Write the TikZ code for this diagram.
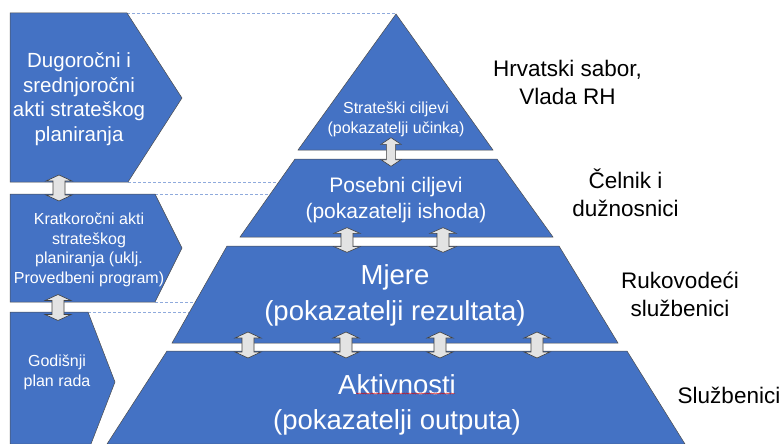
\documentclass[tikz,border=0pt]{standalone}
\usepackage{fontspec}
\setmainfont{Liberation Sans}
\usetikzlibrary{decorations.pathmorphing}
\definecolor{pblue}{HTML}{4472C4}
\definecolor{dashblue}{HTML}{8FAADC}
\definecolor{agray}{HTML}{E3E3E3}
\begin{document}
\begin{tikzpicture}[x=1pt,y=-1pt,
  blk/.style={fill=pblue,draw=black!70,line width=0.5pt},
  dashln/.style={draw=dashblue,line width=0.8pt,dash pattern=on 3pt off 2pt},
  dblshape/.style={fill=agray,draw=black!75,line width=0.6pt},
  dbl/.pic={\path[dblshape] (0,-13) -- (13,-7) -- (6,-7) -- (6,7) -- (13,7) -- (0,13)
      -- (-13,7) -- (-6,7) -- (-6,-7) -- (-13,-7) -- cycle;},
  wtxt/.style={text=white,align=center,inner sep=0pt},
  btxt/.style={text=black,align=center,inner sep=0pt}]
\useasboundingbox (0,0) rectangle (784,444);
\clip (0,0) rectangle (784,444);

% dashed guide lines
\draw[dashln] (127,13.5) -- (396,13.5);
\draw[dashln] (128,182) -- (279,182);
\draw[dashln] (155,194) -- (270,194);
\draw[dashln] (155,302) -- (195,302);
\draw[dashln] (88,312) -- (190,312);

% left chevrons
\path[blk] (10,13) -- (127,13) -- (182,98) -- (128,182) -- (10,182) -- cycle;
\path[blk] (10,194) -- (155,194) -- (182,248) -- (155,302) -- (10,302) -- cycle;
\path[blk] (10,312) -- (88,312) -- (115,382) -- (91,444) -- (10,444) -- cycle;

% pyramid layers
\path[blk] (396,14) -- (493,150) -- (298,150) -- cycle;
\path[blk] (295,159) -- (497,159) -- (553,237) -- (240,237) -- cycle;
\path[blk] (227,246) -- (559,246) -- (618,343) -- (172,343) -- cycle;
\path[blk] (167,351) -- (627,351) -- (685,444) -- (107,444) -- cycle;

% double arrows
\pic[xscale=0.77,yscale=1.1] at (391,152) {dbl};
\pic at (59,188) {dbl};
\pic at (58,307.5) {dbl};
\pic[yscale=0.95] at (347,240) {dbl};
\pic[yscale=0.95] at (443,240) {dbl};
\pic at (248,345) {dbl};
\pic at (346,345) {dbl};
\pic at (440,345) {dbl};
\pic at (537,345) {dbl};

% texts in left chevrons
\node[wtxt,font=\fontsize{20.5}{24.5}\selectfont] (dug) at (79,99)
  {Dugoročni i\\srednjoročni\\akti strateškog\\planiranja};
\node[wtxt,font=\fontsize{16}{19.5}\selectfont] (krat) at (89,250)
  {Kratkoročni akti\\strateškog\\planiranja (uklj.\\Provedbeni program)};
\node[wtxt,font=\fontsize{16}{19.5}\selectfont] (god) at (57,372.5)
  {Godišnji\\plan rada};

% texts in pyramid
\node[wtxt,font=\fontsize{16}{20}\selectfont] (strat) at (396,119.5)
  {Strateški ciljevi\\(pokazatelji učinka)};
\node[wtxt,font=\fontsize{21}{26}\selectfont] (pos) at (396,200.5)
  {Posebni ciljevi\\(pokazatelji ishoda)};
\node[wtxt,font=\fontsize{27.5}{36}\selectfont] (mj) at (395,295.5)
  {Mjere\\(pokazatelji rezultata)};
\node[wtxt,font=\fontsize{27.5}{35}\selectfont] (akt) at (397,404.5)
  {Aktivnosti\\(pokazatelji outputa)};
\draw[red!85!black,line width=0.4pt,decorate,
  decoration={snake,amplitude=0.6pt,segment length=2.5pt}] (356,393.5) -- (455,393.5);

% right labels
\node[btxt,font=\fontsize{22.5}{28}\selectfont] (hs) at (567.5,82.5)
  {Hrvatski sabor,\\Vlada RH};
\node[btxt,font=\fontsize{22.5}{28}\selectfont] (cel) at (625.5,193)
  {Čelnik i\\dužnosnici};
\node[btxt,font=\fontsize{22.5}{28}\selectfont] (ruk) at (680,294)
  {Rukovodeći\\službenici};
\node[btxt,font=\fontsize{22.5}{28}\selectfont] (slu) at (729,395)
  {Službenici};
\end{tikzpicture}
\end{document}
